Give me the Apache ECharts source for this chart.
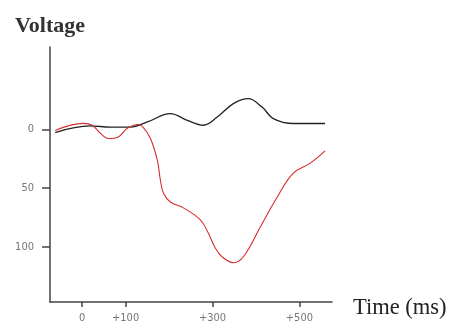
<!DOCTYPE html>
<html>
<head>
<meta charset="utf-8">
<script src="https://cdn.jsdelivr.net/npm/echarts@6/dist/echarts.min.js"></script>
<style>html,body{margin:0;padding:0;background:#fff}#c{width:450px;height:325px}</style>
</head>
<body>
<div id="c"></div>
<script>
// Time (ms) and voltage readings
var blackTimes = [-62, 19, 65, 111, 150, 203, 242, 279, 311, 348, 382, 414, 440, 486, 559];
var blackVolts = [2.8, -2.8, -1.9, -1.9, -6.2, -13.3, -7.6, -3.4, -10.4, -21.8, -26.0, -18.9, -9.1, -4.9, -4.9];
var redTimes = [-62, 3, 23, 42, 60, 83, 104, 129, 140, 157, 173, 180, 187, 203, 233, 272, 290, 306, 322, 348, 371, 410, 449, 486, 525, 559];
var redVolts = [1, -5, -3.4, 3.4, 7.9, 6.5, -0.8, -4.0, -1.9, 7.6, 26.3, 43.2, 54.2, 61.9, 66.9, 77.1, 88.1, 100.8, 108.5, 113.6, 108.5, 83.1, 57.6, 37.3, 28.8, 18.4];
var xTicks = [0, 100, 300, 500];
var xTickLabels = ['0', '+100', '+300', '+500'];
var yTicks = [0, 50, 100];
var yTickLabels = ['0', '50', '100'];

function pairs(a, b) { return a.map(function (v, i) { return [v, b[i]]; }); }

var chart = echarts.init(document.getElementById('c'), null, {renderer: 'canvas'});
chart.setOption({
  animation: false,
  backgroundColor: '#fff',
  grid: {left: 50, right: 118, top: 47, bottom: 23},
  xAxis: {
    type: 'value', min: -74, max: 575,
    splitLine: {show: false},
    axisLine: {show: true, onZero: false, lineStyle: {color: '#444', width: 1.5}},
    axisTick: {show: true, customValues: xTicks, length: 5, lineStyle: {color: '#444', width: 1.5}},
    axisLabel: {
      customValues: xTicks, margin: 11, color: '#777', fontSize: 11,
      fontFamily: 'DejaVu Sans Condensed',
      formatter: function (v) { return xTickLabels[xTicks.indexOf(v)]; }
    }
  },
  yAxis: {
    type: 'value', inverse: true, min: -70, max: 147,
    splitLine: {show: false},
    axisLine: {show: true, onZero: false, lineStyle: {color: '#444', width: 1.5}},
    axisTick: {show: true, customValues: yTicks, length: 8, lineStyle: {color: '#444', width: 1.5}},
    axisLabel: {
      customValues: yTicks, margin: 16, color: '#777', fontSize: 11,
      fontFamily: 'DejaVu Sans Condensed',
      formatter: function (v) { return yTickLabels[yTicks.indexOf(v)]; }
    }
  },
  series: [
    {type: 'line', data: pairs(blackTimes, blackVolts), smooth: 0.4, showSymbol: false,
     lineStyle: {color: '#222', width: 1.3}},
    {type: 'line', data: pairs(redTimes, redVolts), smooth: 0.4, showSymbol: false,
     lineStyle: {color: '#d62b2b', width: 1.1}}
  ],
  graphic: [
    {type: 'text', x: 15, y: 15, style: {text: 'Voltage', font: 'bold 22px "Liberation Serif"', fill: '#333'}},
    {type: 'text', x: 353, y: 297, style: {text: 'Time (ms)', font: '22.5px "Liberation Serif"', fill: '#222'}}
  ]
});
</script>
</body>
</html>
